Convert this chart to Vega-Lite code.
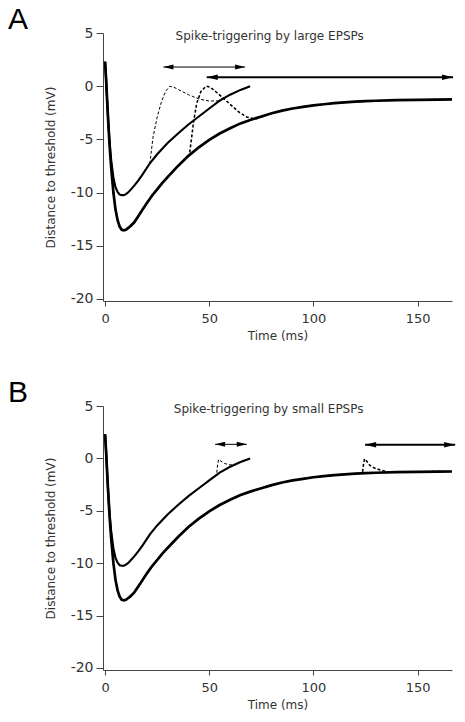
{
  "$schema": "https://vega.github.io/schema/vega-lite/v6.json",
  "background": "white",
  "padding": {"left": 8, "top": 5, "right": 5, "bottom": 5},
  "spacing": 37,
  "config": {
    "view": {"stroke": null},
    "font": "DejaVu Sans",
    "axis": {"grid": false, "domainColor": "#444", "tickColor": "#444", "labelColor": "#333", "titleColor": "#333", "titleFontSize": 12, "titleFontWeight": "normal", "labelFont": "DejaVu Sans", "titleFont": "DejaVu Sans", "labelExpr": "toString(datum.value)"},
    "axisX": {"tickSize": 5, "labelPadding": 6, "titlePadding": 5, "labelFontSize": 13},
    "axisY": {"tickSize": 7, "labelPadding": 3, "titlePadding": 13, "labelFontSize": 14}
  },
  "datasets": {
    "base": [
      {"curve":"thick","t":0,"v":2.3},{"curve":"thick","t":0.5,"v":0.6},{"curve":"thick","t":1,"v":-1.4},{"curve":"thick","t":1.5,"v":-3.3},{"curve":"thick","t":2,"v":-5.0},{"curve":"thick","t":2.5,"v":-6.5},{"curve":"thick","t":3,"v":-7.8},{"curve":"thick","t":4,"v":-10.0},{"curve":"thick","t":5,"v":-11.6},{"curve":"thick","t":6,"v":-12.6},{"curve":"thick","t":7,"v":-13.2},{"curve":"thick","t":8,"v":-13.5},{"curve":"thick","t":9,"v":-13.55},{"curve":"thick","t":10,"v":-13.5},{"curve":"thick","t":11,"v":-13.35},{"curve":"thick","t":12,"v":-13.2},{"curve":"thick","t":14,"v":-12.8},{"curve":"thick","t":16,"v":-12.2},{"curve":"thick","t":18,"v":-11.6},{"curve":"thick","t":20,"v":-11.0},{"curve":"thick","t":22.5,"v":-10.3},{"curve":"thick","t":25,"v":-9.7},{"curve":"thick","t":27.5,"v":-9.1},{"curve":"thick","t":30,"v":-8.55},{"curve":"thick","t":35,"v":-7.5},{"curve":"thick","t":40,"v":-6.55},{"curve":"thick","t":45,"v":-5.75},{"curve":"thick","t":50,"v":-5.05},{"curve":"thick","t":55,"v":-4.45},{"curve":"thick","t":60,"v":-3.95},{"curve":"thick","t":65,"v":-3.5},{"curve":"thick","t":70,"v":-3.15},{"curve":"thick","t":75,"v":-2.85},{"curve":"thick","t":80,"v":-2.55},{"curve":"thick","t":85,"v":-2.3},{"curve":"thick","t":90,"v":-2.1},{"curve":"thick","t":95,"v":-1.95},{"curve":"thick","t":100,"v":-1.8},{"curve":"thick","t":105,"v":-1.7},{"curve":"thick","t":110,"v":-1.6},{"curve":"thick","t":115,"v":-1.52},{"curve":"thick","t":120,"v":-1.46},{"curve":"thick","t":125,"v":-1.41},{"curve":"thick","t":130,"v":-1.37},{"curve":"thick","t":140,"v":-1.31},{"curve":"thick","t":150,"v":-1.28},{"curve":"thick","t":160,"v":-1.26},{"curve":"thick","t":166.5,"v":-1.25},
      {"curve":"thin","t":0,"v":2.3},{"curve":"thin","t":0.5,"v":0.6},{"curve":"thin","t":1,"v":-1.4},{"curve":"thin","t":1.5,"v":-3.2},{"curve":"thin","t":2,"v":-4.8},{"curve":"thin","t":2.5,"v":-6.1},{"curve":"thin","t":3,"v":-7.1},{"curve":"thin","t":4,"v":-8.6},{"curve":"thin","t":5,"v":-9.5},{"curve":"thin","t":6,"v":-9.95},{"curve":"thin","t":7,"v":-10.2},{"curve":"thin","t":8,"v":-10.25},{"curve":"thin","t":9,"v":-10.25},{"curve":"thin","t":10,"v":-10.15},{"curve":"thin","t":11,"v":-10.0},{"curve":"thin","t":12,"v":-9.8},{"curve":"thin","t":14,"v":-9.35},{"curve":"thin","t":16,"v":-8.85},{"curve":"thin","t":18,"v":-8.3},{"curve":"thin","t":21.5,"v":-7.25},{"curve":"thin","t":25,"v":-6.4},{"curve":"thin","t":30,"v":-5.35},{"curve":"thin","t":35,"v":-4.45},{"curve":"thin","t":40,"v":-3.6},{"curve":"thin","t":45,"v":-2.85},{"curve":"thin","t":50,"v":-2.1},{"curve":"thin","t":55,"v":-1.35},{"curve":"thin","t":60,"v":-0.8},{"curve":"thin","t":65,"v":-0.35},{"curve":"thin","t":69.6,"v":0}
    ],
    "spikesA": [
      {"curve":"thin + EPSP","t":0,"v":2.3},{"curve":"thin + EPSP","t":0.5,"v":0.6},{"curve":"thin + EPSP","t":1,"v":-1.4},{"curve":"thin + EPSP","t":1.5,"v":-3.2},{"curve":"thin + EPSP","t":2,"v":-4.8},{"curve":"thin + EPSP","t":2.5,"v":-6.1},{"curve":"thin + EPSP","t":3,"v":-7.1},{"curve":"thin + EPSP","t":4,"v":-8.6},{"curve":"thin + EPSP","t":5,"v":-9.5},{"curve":"thin + EPSP","t":6,"v":-9.95},{"curve":"thin + EPSP","t":7,"v":-10.2},{"curve":"thin + EPSP","t":8,"v":-10.25},{"curve":"thin + EPSP","t":9,"v":-10.25},{"curve":"thin + EPSP","t":10,"v":-10.15},{"curve":"thin + EPSP","t":11,"v":-10.0},{"curve":"thin + EPSP","t":12,"v":-9.8},{"curve":"thin + EPSP","t":14,"v":-9.35},{"curve":"thin + EPSP","t":16,"v":-8.85},{"curve":"thin + EPSP","t":18,"v":-8.3},{"curve":"thin + EPSP","t":21.5,"v":-7.25},{"curve":"thin + EPSP","t":23,"v":-4.8},{"curve":"thin + EPSP","t":25,"v":-2.9},{"curve":"thin + EPSP","t":27,"v":-1.5},{"curve":"thin + EPSP","t":29,"v":-0.5},{"curve":"thin + EPSP","t":31,"v":-0.02},{"curve":"thin + EPSP","t":33,"v":-0.1},{"curve":"thin + EPSP","t":36,"v":-0.4},{"curve":"thin + EPSP","t":40,"v":-0.8},{"curve":"thin + EPSP","t":45,"v":-1.2},{"curve":"thin + EPSP","t":50,"v":-1.4},{"curve":"thin + EPSP","t":54,"v":-1.38},{"curve":"thin + EPSP","t":58,"v":-1.05},
      {"curve":"thick + EPSP","t":0,"v":2.3},{"curve":"thick + EPSP","t":0.5,"v":0.6},{"curve":"thick + EPSP","t":1,"v":-1.4},{"curve":"thick + EPSP","t":1.5,"v":-3.3},{"curve":"thick + EPSP","t":2,"v":-5.0},{"curve":"thick + EPSP","t":2.5,"v":-6.5},{"curve":"thick + EPSP","t":3,"v":-7.8},{"curve":"thick + EPSP","t":4,"v":-10.0},{"curve":"thick + EPSP","t":5,"v":-11.6},{"curve":"thick + EPSP","t":6,"v":-12.6},{"curve":"thick + EPSP","t":7,"v":-13.2},{"curve":"thick + EPSP","t":8,"v":-13.5},{"curve":"thick + EPSP","t":9,"v":-13.55},{"curve":"thick + EPSP","t":10,"v":-13.5},{"curve":"thick + EPSP","t":11,"v":-13.35},{"curve":"thick + EPSP","t":12,"v":-13.2},{"curve":"thick + EPSP","t":14,"v":-12.8},{"curve":"thick + EPSP","t":16,"v":-12.2},{"curve":"thick + EPSP","t":18,"v":-11.6},{"curve":"thick + EPSP","t":20,"v":-11.0},{"curve":"thick + EPSP","t":22.5,"v":-10.3},{"curve":"thick + EPSP","t":25,"v":-9.7},{"curve":"thick + EPSP","t":27.5,"v":-9.1},{"curve":"thick + EPSP","t":30,"v":-8.55},{"curve":"thick + EPSP","t":35,"v":-7.5},{"curve":"thick + EPSP","t":40,"v":-6.55},{"curve":"thick + EPSP","t":40.5,"v":-6.4},{"curve":"thick + EPSP","t":41.5,"v":-4.9},{"curve":"thick + EPSP","t":42.5,"v":-3.3},{"curve":"thick + EPSP","t":44,"v":-1.6},{"curve":"thick + EPSP","t":46,"v":-0.5},{"curve":"thick + EPSP","t":48.5,"v":0},{"curve":"thick + EPSP","t":50.5,"v":-0.1},{"curve":"thick + EPSP","t":53,"v":-0.5},{"curve":"thick + EPSP","t":56,"v":-1.0},{"curve":"thick + EPSP","t":60,"v":-1.7},{"curve":"thick + EPSP","t":64,"v":-2.4},{"curve":"thick + EPSP","t":68,"v":-2.9},{"curve":"thick + EPSP","t":72,"v":-3.1},{"curve":"thick + EPSP","t":76,"v":-2.85},{"curve":"thick + EPSP","t":80,"v":-2.55},{"curve":"thick + EPSP","t":85,"v":-2.3},{"curve":"thick + EPSP","t":90,"v":-2.1},{"curve":"thick + EPSP","t":95,"v":-1.95},{"curve":"thick + EPSP","t":100,"v":-1.8},{"curve":"thick + EPSP","t":105,"v":-1.7},{"curve":"thick + EPSP","t":110,"v":-1.6},{"curve":"thick + EPSP","t":115,"v":-1.52},{"curve":"thick + EPSP","t":120,"v":-1.46},{"curve":"thick + EPSP","t":125,"v":-1.41},{"curve":"thick + EPSP","t":130,"v":-1.37},{"curve":"thick + EPSP","t":140,"v":-1.31},{"curve":"thick + EPSP","t":150,"v":-1.28},{"curve":"thick + EPSP","t":160,"v":-1.26},{"curve":"thick + EPSP","t":166.5,"v":-1.25}
    ],
    "spikesB": [
      {"curve":"thin + EPSP","t":0,"v":2.3},{"curve":"thin + EPSP","t":0.5,"v":0.6},{"curve":"thin + EPSP","t":1,"v":-1.4},{"curve":"thin + EPSP","t":1.5,"v":-3.2},{"curve":"thin + EPSP","t":2,"v":-4.8},{"curve":"thin + EPSP","t":2.5,"v":-6.1},{"curve":"thin + EPSP","t":3,"v":-7.1},{"curve":"thin + EPSP","t":4,"v":-8.6},{"curve":"thin + EPSP","t":5,"v":-9.5},{"curve":"thin + EPSP","t":6,"v":-9.95},{"curve":"thin + EPSP","t":7,"v":-10.2},{"curve":"thin + EPSP","t":8,"v":-10.25},{"curve":"thin + EPSP","t":9,"v":-10.25},{"curve":"thin + EPSP","t":10,"v":-10.15},{"curve":"thin + EPSP","t":11,"v":-10.0},{"curve":"thin + EPSP","t":12,"v":-9.8},{"curve":"thin + EPSP","t":14,"v":-9.35},{"curve":"thin + EPSP","t":16,"v":-8.85},{"curve":"thin + EPSP","t":18,"v":-8.3},{"curve":"thin + EPSP","t":21.5,"v":-7.25},{"curve":"thin + EPSP","t":25,"v":-6.4},{"curve":"thin + EPSP","t":30,"v":-5.35},{"curve":"thin + EPSP","t":35,"v":-4.45},{"curve":"thin + EPSP","t":40,"v":-3.6},{"curve":"thin + EPSP","t":45,"v":-2.85},{"curve":"thin + EPSP","t":50,"v":-2.1},{"curve":"thin + EPSP","t":53.5,"v":-1.57},{"curve":"thin + EPSP","t":54,"v":-0.6},{"curve":"thin + EPSP","t":54.5,"v":-0.1},{"curve":"thin + EPSP","t":55.5,"v":-0.25},{"curve":"thin + EPSP","t":57.5,"v":-0.5},{"curve":"thin + EPSP","t":60,"v":-0.62},{"curve":"thin + EPSP","t":62.5,"v":-0.57},
      {"curve":"thick + EPSP","t":0,"v":2.3},{"curve":"thick + EPSP","t":0.5,"v":0.6},{"curve":"thick + EPSP","t":1,"v":-1.4},{"curve":"thick + EPSP","t":1.5,"v":-3.3},{"curve":"thick + EPSP","t":2,"v":-5.0},{"curve":"thick + EPSP","t":2.5,"v":-6.5},{"curve":"thick + EPSP","t":3,"v":-7.8},{"curve":"thick + EPSP","t":4,"v":-10.0},{"curve":"thick + EPSP","t":5,"v":-11.6},{"curve":"thick + EPSP","t":6,"v":-12.6},{"curve":"thick + EPSP","t":7,"v":-13.2},{"curve":"thick + EPSP","t":8,"v":-13.5},{"curve":"thick + EPSP","t":9,"v":-13.55},{"curve":"thick + EPSP","t":10,"v":-13.5},{"curve":"thick + EPSP","t":11,"v":-13.35},{"curve":"thick + EPSP","t":12,"v":-13.2},{"curve":"thick + EPSP","t":14,"v":-12.8},{"curve":"thick + EPSP","t":16,"v":-12.2},{"curve":"thick + EPSP","t":18,"v":-11.6},{"curve":"thick + EPSP","t":20,"v":-11.0},{"curve":"thick + EPSP","t":22.5,"v":-10.3},{"curve":"thick + EPSP","t":25,"v":-9.7},{"curve":"thick + EPSP","t":27.5,"v":-9.1},{"curve":"thick + EPSP","t":30,"v":-8.55},{"curve":"thick + EPSP","t":35,"v":-7.5},{"curve":"thick + EPSP","t":40,"v":-6.55},{"curve":"thick + EPSP","t":45,"v":-5.75},{"curve":"thick + EPSP","t":50,"v":-5.05},{"curve":"thick + EPSP","t":55,"v":-4.45},{"curve":"thick + EPSP","t":60,"v":-3.95},{"curve":"thick + EPSP","t":65,"v":-3.5},{"curve":"thick + EPSP","t":70,"v":-3.15},{"curve":"thick + EPSP","t":75,"v":-2.85},{"curve":"thick + EPSP","t":80,"v":-2.55},{"curve":"thick + EPSP","t":85,"v":-2.3},{"curve":"thick + EPSP","t":90,"v":-2.1},{"curve":"thick + EPSP","t":95,"v":-1.95},{"curve":"thick + EPSP","t":100,"v":-1.8},{"curve":"thick + EPSP","t":105,"v":-1.7},{"curve":"thick + EPSP","t":110,"v":-1.6},{"curve":"thick + EPSP","t":115,"v":-1.52},{"curve":"thick + EPSP","t":120,"v":-1.46},{"curve":"thick + EPSP","t":123.5,"v":-1.42},{"curve":"thick + EPSP","t":124,"v":-0.6},{"curve":"thick + EPSP","t":124.5,"v":-0.05},{"curve":"thick + EPSP","t":125.5,"v":-0.25},{"curve":"thick + EPSP","t":127,"v":-0.65},{"curve":"thick + EPSP","t":129,"v":-0.9},{"curve":"thick + EPSP","t":132,"v":-1.1},{"curve":"thick + EPSP","t":136,"v":-1.3},{"curve":"thick + EPSP","t":140,"v":-1.31},{"curve":"thick + EPSP","t":150,"v":-1.28},{"curve":"thick + EPSP","t":160,"v":-1.26},{"curve":"thick + EPSP","t":166.5,"v":-1.25}
    ],
    "arrowsA": [
      {"kind":"thin","from":28,"to":67.2,"v":1.8},
      {"kind":"thick","from":48.8,"to":167,"v":0.85}
    ],
    "arrowsB": [
      {"kind":"thin","from":52.8,"to":68,"v":1.34},
      {"kind":"thick","from":124.8,"to":168,"v":1.3}
    ],
    "labelA": [{"t":79,"v":4.35,"label":"Spike-triggering by large EPSPs"}],
    "labelB": [{"t":78.5,"v":4.35,"label":"Spike-triggering by small EPSPs"}]
  },
  "vconcat": [
    {
      "title": {"text": "A", "anchor": "start", "frame": "group", "fontSize": 30, "font": "Liberation Sans", "fontWeight": "normal", "dx": -95, "offset": -33, "baseline": "alphabetic", "color": "black"},
      "width": 349,
      "height": 268,
      "resolve": {"scale": {"strokeWidth": "independent", "size": "independent", "shape": "independent"}},
      "layer": [
        {"mark": {"type": "rule", "color": "#555", "strokeWidth": 1}, "encoding": {"y": {"datum": 0, "type": "quantitative"}}},
        {
          "data": {"name": "base"},
          "mark": {"type": "line", "color": "black"},
          "encoding": {
            "x": {"field": "t", "type": "quantitative", "scale": {"domain": [-1, 166.5], "nice": false, "zero": false}, "axis": {"values": [0, 50, 100, 150], "title": "Time (ms)"}},
            "y": {"field": "v", "type": "quantitative", "scale": {"domain": [-20.2, 5], "nice": false, "zero": false}, "axis": {"values": [5, 0, -5, -10, -15, -20], "title": "Distance to threshold (mV)"}},
            "detail": {"field": "curve"},
            "strokeWidth": {"field": "curve", "type": "nominal", "scale": {"domain": ["thick", "thin", "thick + EPSP", "thin + EPSP"], "range": [2.7, 1, 2.5, 1.1]}, "legend": null}
          }
        },
        {
          "data": {"name": "spikesA"},
          "mark": {"type": "line", "color": "black", "strokeDash": [3, 2]},
          "encoding": {
            "x": {"field": "t", "type": "quantitative"},
            "y": {"field": "v", "type": "quantitative"},
            "detail": {"field": "curve"},
            "strokeWidth": {"field": "curve", "type": "nominal", "scale": {"domain": ["thick", "thin", "thick + EPSP", "thin + EPSP"], "range": [2.7, 1, 2.5, 1.1]}, "legend": null}
          }
        },
        {
          "data": {"name": "arrowsA"},
          "mark": {"type": "rule", "color": "black"},
          "encoding": {
            "x": {"field": "from", "type": "quantitative"},
            "x2": {"field": "to"},
            "y": {"field": "v", "type": "quantitative"},
            "strokeWidth": {"field": "kind", "type": "nominal", "scale": {"domain": ["thin", "thick"], "range": [1, 2]}, "legend": null}
          }
        },
        {
          "data": {"name": "arrowsA"},
          "transform": [{"fold": ["from", "to"], "as": ["end", "tip"]}],
          "mark": {"type": "point", "filled": true, "color": "black", "opacity": 1, "strokeWidth": 0},
          "encoding": {
            "x": {"field": "tip", "type": "quantitative"},
            "y": {"field": "v", "type": "quantitative"},
            "shape": {"field": "end", "type": "nominal", "scale": {"domain": ["from", "to"], "range": ["M 0 0 L 2 -0.5 L 2 0.5 Z", "M 0 0 L -2 -0.5 L -2 0.5 Z"]}, "legend": null},
            "size": {"field": "kind", "type": "nominal", "scale": {"domain": ["thin", "thick"], "range": [100, 121]}, "legend": null}
          }
        },
        {
          "data": {"name": "labelA"},
          "mark": {"type": "text", "fontSize": 12, "font": "DejaVu Sans", "color": "#333", "align": "center", "baseline": "alphabetic"},
          "encoding": {
            "x": {"field": "t", "type": "quantitative"},
            "y": {"field": "v", "type": "quantitative"},
            "text": {"field": "label"}
          }
        }
      ]
    },
    {
      "title": {"text": "B", "anchor": "start", "frame": "group", "fontSize": 30, "font": "Liberation Sans", "fontWeight": "normal", "dx": -95, "offset": -33, "baseline": "alphabetic", "color": "black"},
      "width": 349,
      "height": 264,
      "resolve": {"scale": {"strokeWidth": "independent", "size": "independent", "shape": "independent"}},
      "layer": [
        {"mark": {"type": "rule", "color": "#555", "strokeWidth": 1}, "encoding": {"y": {"datum": 0, "type": "quantitative"}}},
        {
          "data": {"name": "base"},
          "mark": {"type": "line", "color": "black"},
          "encoding": {
            "x": {"field": "t", "type": "quantitative", "scale": {"domain": [-1, 166.5], "nice": false, "zero": false}, "axis": {"values": [0, 50, 100, 150], "title": "Time (ms)"}},
            "y": {"field": "v", "type": "quantitative", "scale": {"domain": [-20.2, 5], "nice": false, "zero": false}, "axis": {"values": [5, 0, -5, -10, -15, -20], "title": "Distance to threshold (mV)"}},
            "detail": {"field": "curve"},
            "strokeWidth": {"field": "curve", "type": "nominal", "scale": {"domain": ["thick", "thin", "thick + EPSP", "thin + EPSP"], "range": [2.7, 1, 2.5, 1.1]}, "legend": null}
          }
        },
        {
          "data": {"name": "spikesB"},
          "mark": {"type": "line", "color": "black", "strokeDash": [3, 2]},
          "encoding": {
            "x": {"field": "t", "type": "quantitative"},
            "y": {"field": "v", "type": "quantitative"},
            "detail": {"field": "curve"},
            "strokeWidth": {"field": "curve", "type": "nominal", "scale": {"domain": ["thick", "thin", "thick + EPSP", "thin + EPSP"], "range": [2.7, 1, 2.5, 1.1]}, "legend": null}
          }
        },
        {
          "data": {"name": "arrowsB"},
          "mark": {"type": "rule", "color": "black"},
          "encoding": {
            "x": {"field": "from", "type": "quantitative"},
            "x2": {"field": "to"},
            "y": {"field": "v", "type": "quantitative"},
            "strokeWidth": {"field": "kind", "type": "nominal", "scale": {"domain": ["thin", "thick"], "range": [1, 2]}, "legend": null}
          }
        },
        {
          "data": {"name": "arrowsB"},
          "transform": [{"fold": ["from", "to"], "as": ["end", "tip"]}],
          "mark": {"type": "point", "filled": true, "color": "black", "opacity": 1, "strokeWidth": 0},
          "encoding": {
            "x": {"field": "tip", "type": "quantitative"},
            "y": {"field": "v", "type": "quantitative"},
            "shape": {"field": "end", "type": "nominal", "scale": {"domain": ["from", "to"], "range": ["M 0 0 L 2 -0.5 L 2 0.5 Z", "M 0 0 L -2 -0.5 L -2 0.5 Z"]}, "legend": null},
            "size": {"field": "kind", "type": "nominal", "scale": {"domain": ["thin", "thick"], "range": [100, 121]}, "legend": null}
          }
        },
        {
          "data": {"name": "labelB"},
          "mark": {"type": "text", "fontSize": 12, "font": "DejaVu Sans", "color": "#333", "align": "center", "baseline": "alphabetic"},
          "encoding": {
            "x": {"field": "t", "type": "quantitative"},
            "y": {"field": "v", "type": "quantitative"},
            "text": {"field": "label"}
          }
        }
      ]
    }
  ]
}
